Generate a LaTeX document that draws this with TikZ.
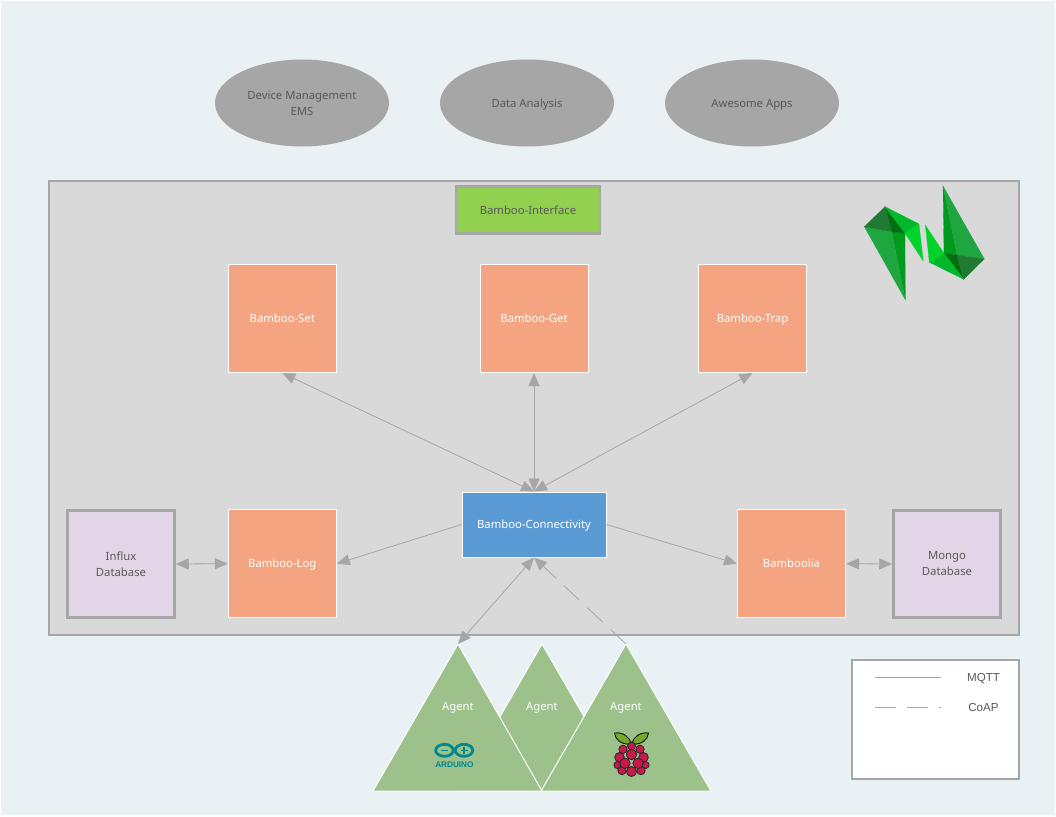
\documentclass[tikz,border=0pt]{standalone}
\usepackage{fontspec}
\setmainfont{Noto Sans}
\newfontfamily\legendfont{Liberation Sans}
\usetikzlibrary{arrows.meta,shapes.geometric}
\definecolor{pagebg}{HTML}{EAF1F5}
\definecolor{panelbg}{HTML}{D9D9D9}
\definecolor{edgegray}{HTML}{A6A6A6}
\definecolor{textgray}{HTML}{595959}
\definecolor{orangebox}{HTML}{F4A481}
\definecolor{bluebox}{HTML}{5B9BD5}
\definecolor{greenbox}{HTML}{92D050}
\definecolor{purplebox}{HTML}{E1D5E7}
\definecolor{agentgreen}{HTML}{9DC18A}
\definecolor{arduinoteal}{HTML}{00878F}
\definecolor{berryred}{HTML}{C51A4A}
\definecolor{leafgreen}{HTML}{75A928}
\definecolor{logoa}{HTML}{009A1E}
\definecolor{logob}{HTML}{1FA63E}
\definecolor{logoc}{HTML}{006F12}
\definecolor{logod}{HTML}{217A33}
\definecolor{logoe}{HTML}{00B82A}
\definecolor{logof}{HTML}{00D42A}
\tikzset{
	>={Triangle[length=13pt,width=11pt]},
	oneline/.style={text height=10, text depth=1.5},
	app/.style={ellipse, fill=edgegray, text=textgray, minimum width=174, minimum height=87, inner sep=0, align=center, font=\fontsize{11.3}{16}\selectfont},
	block/.style={draw=white, line width=1pt, fill=orangebox, text=white, minimum width=108, minimum height=108, inner sep=0, oneline, font=\fontsize{11.3}{14}\selectfont},
	database/.style={draw=edgegray, line width=2.5pt, fill=purplebox, text=textgray, minimum width=107, minimum height=107, inner sep=0, align=center, font=\fontsize{11.3}{16}\selectfont},
	agent/.style={draw=white, line width=1pt, fill=agentgreen},
	agenttext/.style={text=white, inner sep=0, oneline, font=\fontsize{11.3}{14}\selectfont},
	legendtext/.style={text=textgray, inner sep=0, font=\legendfont\fontsize{11.6}{12}\selectfont},
	link/.style={draw=edgegray, line width=0.8pt},
	coap/.style={dash pattern=on 21pt off 11pt},
	leaf/.style={draw=black, fill=leafgreen, line width=0.8pt},
	berry/.style={draw=black!85, fill=berryred, line width=0.8pt},
}
\begin{document}
\begin{tikzpicture}[x=1pt, y=-1pt]
			%%%%% START %%%%%
			\useasboundingbox (0, 0) rectangle (1056, 816);
			\fill[white] (0, 0) rectangle (1056, 816);
			\fill[pagebg] (1, 1) rectangle (1055, 815);
			
			\node[app] (ems) at (302, 103) {Device Management\\EMS};
			\node[app, oneline] (analysis) at (527, 103) {Data Analysis};
			\node[app, oneline] (apps) at (752, 103) {Awesome Apps};
			
			\draw[fill=panelbg, draw=edgegray, line width=2.5pt] (49, 181) rectangle (1019, 635);
			
			\node[draw=edgegray, line width=2.5pt, fill=greenbox, text=textgray, minimum width=144, minimum height=47, inner sep=0, oneline, font=\fontsize{11.3}{14}\selectfont] (interface) at (528, 210) {Bamboo-Interface};
			
			\node[block] (set) at (282.3, 318.5) {Bamboo-Set};
			\node[block] (get) at (534, 318.5) {Bamboo-Get};
			\node[block] (trap) at (752.5, 318.5) {Bamboo-Trap};
			\node[block] (log) at (282.3, 563.7) {Bamboo-Log};
			\node[block] (bamboolia) at (791.5, 563.7) {Bamboolia};
			\node[block, fill=bluebox, minimum width=144, minimum height=65] (conn) at (534, 524.5) {Bamboo-Connectivity};
			\node[database] (influx) at (121, 564) {Influx\\Database};
			\node[database] (mongo) at (947, 564) {Mongo\\Database};
			
			% agents
			\coordinate (apexa) at (458, 644);
			\coordinate (apexb) at (542, 644);
			\coordinate (apexc) at (626, 644);
			\filldraw[agent] (apexb) -- (457, 791) -- (627, 791) -- cycle;
			\filldraw[agent] (apexa) -- (373, 791) -- (542, 791) -- cycle;
			\filldraw[agent] (apexc) -- (541, 791) -- (711, 791) -- cycle;
			\node[agenttext] (agenta) at (458, 706) {Agent};
			\node[agenttext] (agentb) at (542, 706) {Agent};
			\node[agenttext] (agentc) at (626, 706) {Agent};
			
			% arduino
			\draw[arduinoteal, line width=2.8pt] (444.5, 750.3) ellipse (8.8 and 6);
			\draw[arduinoteal, line width=2.8pt] (464, 750.3) ellipse (8.8 and 6);
			\draw[arduinoteal, line width=1.4pt] (441, 750.3) -- (448, 750.3);
			\draw[arduinoteal, line width=1.4pt] (460.5, 750.3) -- (467.5, 750.3);
			\draw[arduinoteal, line width=1.4pt] (464, 746.8) -- (464, 753.8);
			\node[text=arduinoteal, inner sep=0, font=\legendfont\bfseries\fontsize{8.2}{9}\selectfont] (arduino) at (454.4, 765) {ARDUINO};
			
			% raspberry
			\draw[leaf] (630.8, 744) .. controls (622, 745) and (615, 740) .. (614.5, 733) .. controls (622, 732) and (630, 736) .. cycle;
			\draw[leaf] (632.2, 744) .. controls (641, 745) and (648, 740) .. (648.5, 733) .. controls (641, 732) and (633, 736) .. cycle;
			\foreach \bx/\by/\br in {617.5/765/3.6, 645.5/765/3.6, 631.5/746/4, 623/749.3/4.2, 640/749.3/4.2, 619.5/757.3/4.8, 643.5/757.3/4.8, 622/770.5/4.2, 641/770.5/4.2, 631.5/771.5/5, 625/763.3/5.2, 638/763.3/5.2, 631.5/754.5/5.2}
				\draw[berry] (\bx, \by) circle (\br);
			
			% connectors
			\draw[link, <->] (conn.north) -- (set.south);
			\draw[link, <->] (conn.north) -- (get.south);
			\draw[link, <->] (conn.north) -- (trap.south);
			\draw[link, ->] (conn.west) -- (log.east);
			\draw[link, ->] (conn.east) -- (bamboolia.west);
			\draw[link, <->] (influx.east) -- (log.west);
			\draw[link, <->] (bamboolia.east) -- (mongo.west);
			\draw[link, <->] (conn.south) -- (apexa);
			\draw[link, ->, coap] (apexc) -- (conn.south);
			
			% legend
			\draw[fill=white, draw=edgegray, line width=2.5pt] (852, 660) rectangle (1019, 779);
			\coordinate (mqtta) at (875, 677);
			\coordinate (mqttb) at (941, 677);
			\coordinate (coapa) at (875, 707);
			\coordinate (coapb) at (941, 707);
			\draw[link] (mqtta) -- (mqttb);
			\draw[link, coap] (coapa) -- (coapb);
			\node[legendtext] (mqtt) at (983.5, 678.7) {MQTT};
			\node[legendtext] (coapl) at (983.5, 707) {CoAP};
			
			% logo
			\begin{scope}[line width=0.2pt]
				\filldraw[logoa] (943, 186) -- (944, 253.3) -- (957, 255) -- cycle;
				\filldraw[logob] (943, 186) -- (957, 255) -- (984.3, 259) -- cycle;
				\filldraw[logoc] (944, 253.3) -- (957, 255) -- (963.7, 279.3) -- cycle;
				\filldraw[logod] (957, 255) -- (984.3, 259) -- (963.7, 279.3) -- cycle;
				\filldraw[logoe] (944, 253.3) -- (963.7, 279.3) -- (929.3, 262.3) -- cycle;
				\filldraw[logof] (925.3, 225) -- (944, 253.3) -- (929.3, 262.3) -- cycle;
				\filldraw[logoa] (905.3, 299.7) -- (905, 233.3) -- (891.7, 231.7) -- cycle;
				\filldraw[logob] (905.3, 299.7) -- (891.7, 231.7) -- (864.3, 226.7) -- cycle;
				\filldraw[logoc] (905, 233.3) -- (891.7, 231.7) -- (885, 206.7) -- cycle;
				\filldraw[logod] (891.7, 231.7) -- (864.3, 226.7) -- (885, 206.7) -- cycle;
				\filldraw[logoe] (905, 233.3) -- (885, 206.7) -- (919, 224) -- cycle;
				\filldraw[logof] (919, 224) -- (905, 233.3) -- (923.3, 261) -- cycle;
			\end{scope}
			
			%%%%% END %%%%%
		\end{tikzpicture}
\end{document}
